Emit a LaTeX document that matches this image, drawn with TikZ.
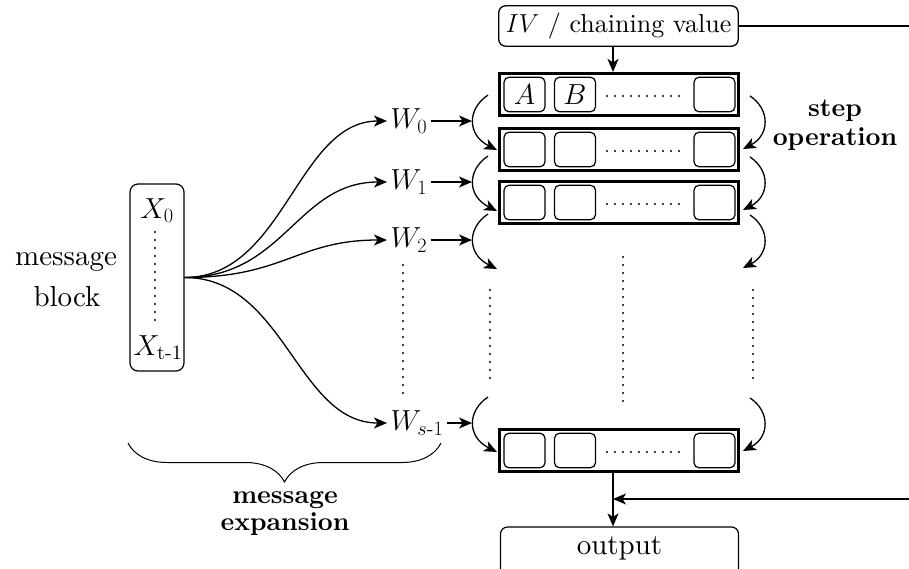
\RequirePackage{fix-cm}
\documentclass[tikz,border=0pt]{standalone}
\usepackage{amsmath}
\usepackage{fontspec}
\setmainfont{lmroman10-regular.otf}[
  BoldFont=lmroman10-bold.otf,
  ItalicFont=lmroman10-italic.otf]
\usetikzlibrary{arrows.meta,decorations.pathreplacing}

\begin{document}
\begin{tikzpicture}[x=1pt,y=-1pt,
  line width=1.3pt,
  arr/.style={-{Stealth[length=13pt,width=11pt,inset=3.5pt]}},
  reg/.style={font=\fontsize{29}{38}\selectfont},
  bld/.style={font=\fontsize{26}{28}\selectfont\bfseries, anchor=base},
  staterow/.style={draw, line width=1.7pt, minimum width=240.4pt, minimum height=43.4pt,
    inner sep=0pt},
  rowinner/.style={line width=0.8pt},
  cell/.style={draw, rounded corners=5pt, minimum width=41pt, minimum height=34.5pt,
    inner sep=0pt, line width=1.2pt, font=\fontsize{29}{35}\selectfont},
  dotline/.style={line width=2.3pt, line cap=round, dash pattern=on 0pt off 8pt},
]
\useasboundingbox (0,0) rectangle (909,568);
\clip (0,0) rectangle (909,568);

% initial value / chaining value
\node[draw, rounded corners=7pt, minimum width=239.5pt, minimum height=40.5pt,
  inner sep=0pt, font=\fontsize{26}{32}\selectfont] (iv) at (618.5,26)
  {$IV$ / chaining value};

% state registers: a doubled frame holding the word cells
\foreach \r/\y in {1/94.5,2/149.5,3/202.5,4/450.5}{
  \node[staterow] (row\r) at (619,\y) {};
  \draw[rowinner] ([shift={(2.4,2.4)}]row\r.north west)
    rectangle ([shift={(-2.4,-2.4)}]row\r.south east);
  \node[cell] (row\r a) at (524.5,\y) {};
  \node[cell] (row\r b) at (575,\y) {};
  \node[cell] (row\r z) at (714.5,\y) {};
  \draw[dotline] (607,\y+1.5) -- (681,\y+1.5);
}
\node[font=\fontsize{29}{35}\selectfont] (lblA) at (row1a) {$A$};
\node[font=\fontsize{29}{35}\selectfont] (lblB) at (row1b) {$B$};

% output
\node[draw, rounded corners=7pt, minimum width=238pt, minimum height=50pt,
  line width=1.2pt] (out) at (619.5,552) {};
\node[reg, anchor=base] (outtxt) at (619.5,554) {output};

% message block
\node[draw, rounded corners=8pt, minimum width=54pt, minimum height=187pt,
  line width=1.2pt] (xbox) at (157,277.5) {};
\node[reg, anchor=base] (x0) at (157,218) {$X_0$};
\node[reg, anchor=base] (xt) at (158,355) {$X_{\text{t-1}}$};
\draw[dotline] (155,232) -- (155,321);
\node[reg, anchor=base] (msg1) at (66,265) {message};
\node[reg, anchor=base] (msg2) at (67,306) {block};

% expanded message words
\foreach \n/\w/\lab in {0/121/{W_0},1/182/{W_1},2/240/{W_2},3/423/{W_{s\text{-}1}}}{
  \node[reg, anchor=west, inner sep=3pt] (w\n) at (387,\w) {$\lab$};
  \coordinate (a\n) at (472,\w);
  \draw[arr] (w\n.east) -- (a\n);
  \draw[arr] (xbox.east) .. controls +(100,0) and +(-90,0) .. (w\n.west);
  % step operation arcs on both sides
  \draw[arr] (488,\w-26) .. controls (467,\w-12) and (467,\w+14) .. (497,\w+29);
  \draw[arr] (750,\w-25) .. controls (770,\w-12) and (770,\w+14) .. (743,\w+28);
}
\draw[dotline] (403,265) -- (403,394);
\draw[dotline] (490,290) -- (490,379);
\draw[dotline] (623,257) -- (623,402);
\draw[dotline] (753,290) -- (753,379);

% labels
\node[bld] (step1) at (835,116) {step};
\node[bld] (step2) at (835,145) {operation};
\draw[decorate, decoration={brace, amplitude=39pt}, line width=1pt]
  (441,443) -- (128,443);
\node[bld] (exp1) at (285,503) {message};
\node[bld] (exp2) at (285,530) {expansion};

% data flow
\coordinate (cx) at (613,0);
\coordinate (fbtop) at (909,26);
\coordinate (fbbot) at (909,499);
\draw[arr] (iv.south -| cx) -- (row1.north -| cx);
\draw (iv.east) -- (fbtop);
\draw[arr] (row4.south -| cx) -- (out.north -| cx);
\draw[arr] (fbbot) -- (fbbot -| cx);
\end{tikzpicture}
\end{document}
